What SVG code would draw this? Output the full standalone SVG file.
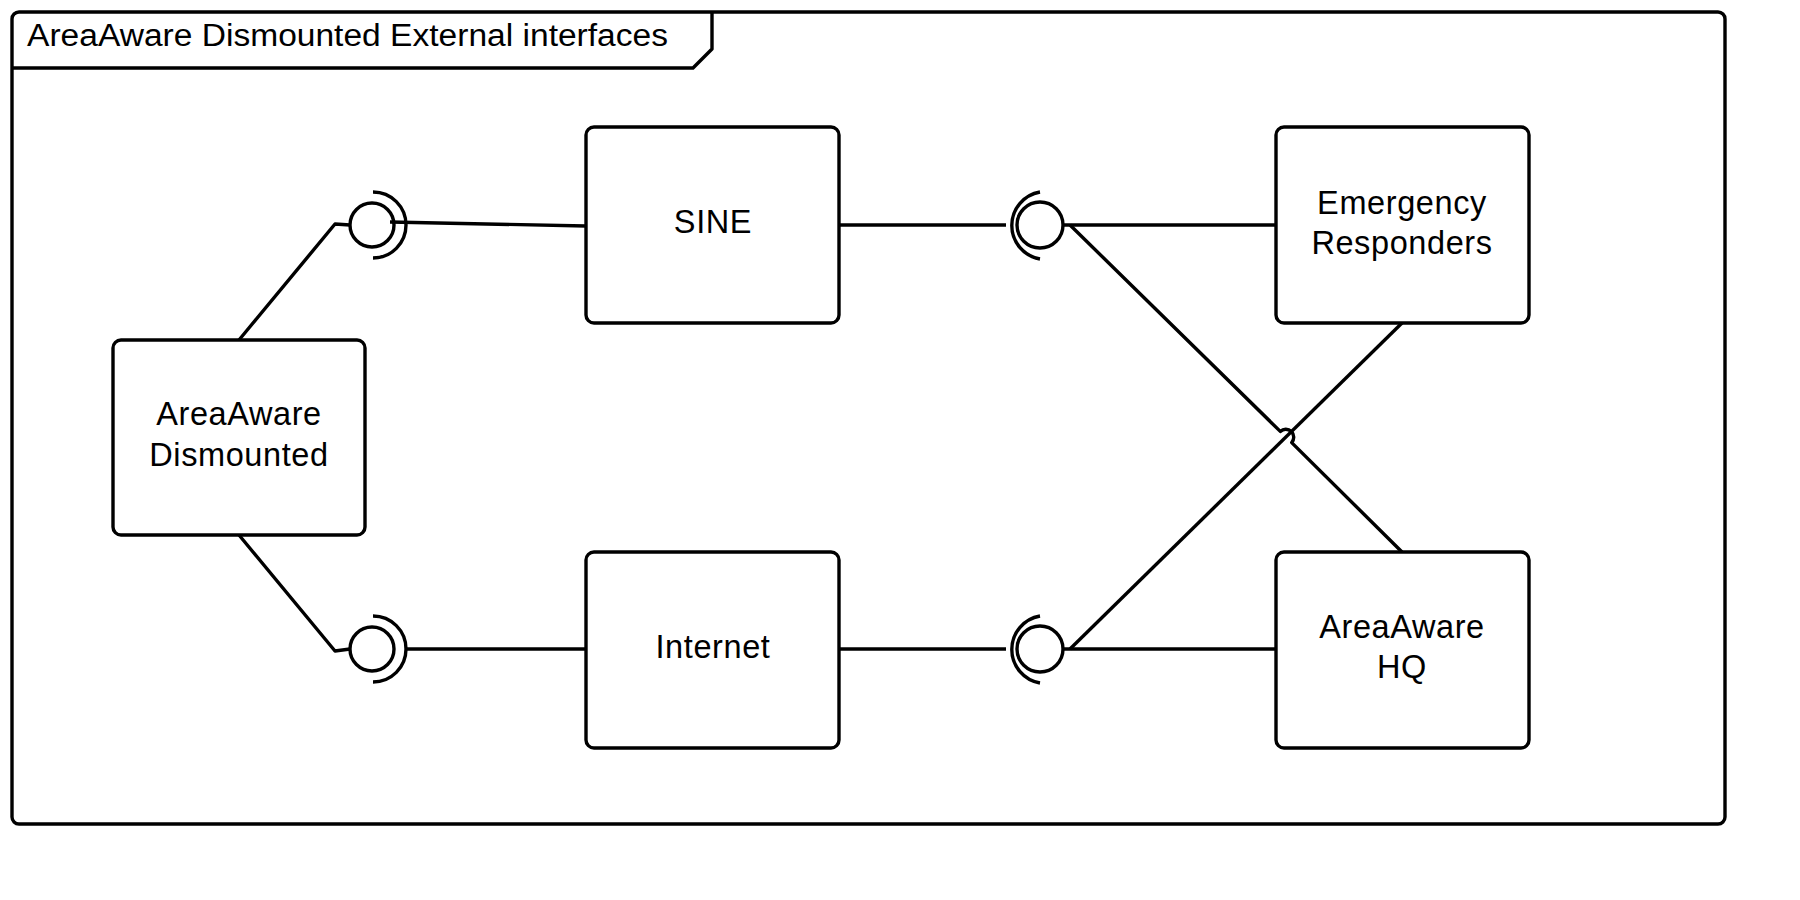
<svg xmlns="http://www.w3.org/2000/svg" width="1800" height="900" viewBox="0 0 1800 900">
<style>
.s{fill:none;stroke:#000;stroke-width:3.4;stroke-linecap:butt;stroke-linejoin:round}
.box{fill:#fff;stroke:#000;stroke-width:3.4}
.t{font-family:"Liberation Sans",Arial,sans-serif;font-size:32.5px;fill:#000;text-anchor:middle;letter-spacing:0.6px}
.title{font-family:"Liberation Sans",Arial,sans-serif;font-size:31px;fill:#000}
</style>
<rect width="1800" height="900" fill="#fff"/>
<g id="frame">
<rect x="12" y="12" width="1713" height="812" rx="7" class="s"/>
<path d="M12 68 H693 L712 49 V12" class="s"/>
<text x="27" y="46" class="title" textLength="641" lengthAdjust="spacingAndGlyphs">AreaAware Dismounted External interfaces</text>
</g>
<g id="connectors">
<polyline points="239,340 335,224 350,225" class="s"/>
<line x1="390" y1="222" x2="586" y2="226" class="s"/>
<polyline points="239,535 335,651 350,649" class="s"/>
<line x1="405" y1="649" x2="586" y2="649" class="s"/>
<line x1="839" y1="225" x2="1006" y2="225" class="s"/>
<line x1="1063" y1="225" x2="1276" y2="225" class="s"/>
<line x1="839" y1="649" x2="1006" y2="649" class="s"/>
<line x1="1063" y1="649" x2="1276" y2="649" class="s"/>
<path d="M1070 225 L1280.3 431.4 A8 8 0 0 1 1291.7 442.6 L1402 552" class="s"/>
<line x1="1070" y1="649" x2="1402" y2="323" class="s"/>
</g>
<g id="iface-sine-left">
<circle cx="372" cy="225" r="22" class="s"/>
<path d="M373 192 A33 33 0 0 1 373 258" class="s"/>
</g>
<g id="iface-sine-right">
<circle cx="1040" cy="225" r="23" class="s"/>
<path d="M1040 192 A34 34 0 0 0 1040 259" class="s"/>
</g>
<g id="iface-internet-left">
<circle cx="372" cy="649" r="22" class="s"/>
<path d="M373 616 A33 33 0 0 1 373 682" class="s"/>
</g>
<g id="iface-internet-right">
<circle cx="1040" cy="649" r="23" class="s"/>
<path d="M1040 616 A34 34 0 0 0 1040 683" class="s"/>
</g>
<g id="node-dismounted">
<rect x="113" y="340" width="252" height="195" rx="8" class="box"/>
<text x="239" y="425" class="t">AreaAware</text>
<text x="239" y="466" class="t">Dismounted</text>
</g>
<g id="node-sine">
<rect x="586" y="127" width="253" height="196" rx="8" class="box"/>
<text x="713" y="233" class="t">SINE</text>
</g>
<g id="node-internet">
<rect x="586" y="552" width="253" height="196" rx="8" class="box"/>
<text x="713" y="658" class="t">Internet</text>
</g>
<g id="node-emergency">
<rect x="1276" y="127" width="253" height="196" rx="8" class="box"/>
<text x="1402" y="214" class="t">Emergency</text>
<text x="1402" y="254" class="t">Responders</text>
</g>
<g id="node-hq">
<rect x="1276" y="552" width="253" height="196" rx="8" class="box"/>
<text x="1402" y="638" class="t">AreaAware</text>
<text x="1402" y="678" class="t">HQ</text>
</g>
</svg>
